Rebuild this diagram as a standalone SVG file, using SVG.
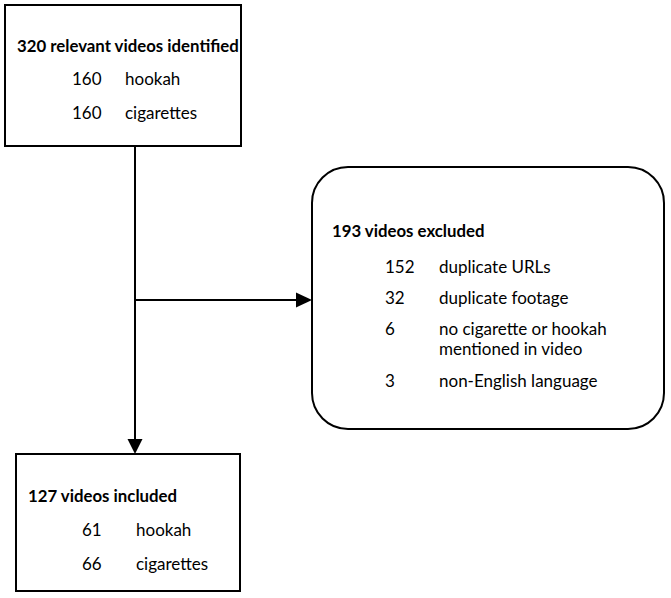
<svg xmlns="http://www.w3.org/2000/svg" width="671" height="598" viewBox="0 0 671 598">
<defs>
<style>
.box{fill:#fff;stroke:#000;stroke-width:2}
.t{font-family:Lato,"Liberation Sans",sans-serif;font-size:17px;fill:#000}
.b{font-weight:bold;font-size:16.8px}
.ln{stroke:#000;stroke-width:2;fill:none}
</style>
</defs>
<rect width="671" height="598" fill="#fff"/>
<g id="connectors">
<line class="ln" x1="135" y1="146" x2="135" y2="439"/>
<path d="M127.5,439 L142.5,439 L135,454 Z" fill="#000"/>
<line class="ln" x1="135" y1="300" x2="297" y2="300"/>
<path d="M296,292.5 L312,300 L296,307.5 Z" fill="#000"/>
</g>
<g id="identified">
<rect class="box" x="5" y="5" width="236" height="141"/>
<text class="t b" x="17" y="52">320 relevant videos identified</text>
<text class="t" x="72" y="85">160</text>
<text class="t" x="125" y="85">hookah</text>
<text class="t" x="72" y="119">160</text>
<text class="t" x="125" y="119">cigarettes</text>
</g>
<g id="excluded">
<rect class="box" x="312" y="167" width="352" height="262" rx="36" ry="36"/>
<text class="t b" x="332" y="237">193 videos excluded</text>
<text class="t" x="385" y="273">152</text>
<text class="t" x="439" y="273">duplicate URLs</text>
<text class="t" x="385" y="304">32</text>
<text class="t" x="439" y="304">duplicate footage</text>
<text class="t" x="385" y="335">6</text>
<text class="t" x="439" y="335">no cigarette or hookah</text>
<text class="t" x="439" y="355">mentioned in video</text>
<text class="t" x="385" y="387">3</text>
<text class="t" x="439" y="387">non-English language</text>
</g>
<g id="included">
<rect class="box" x="16" y="454" width="224" height="137"/>
<text class="t b" x="28" y="502">127 videos included</text>
<text class="t" x="82" y="536">61</text>
<text class="t" x="136" y="536">hookah</text>
<text class="t" x="82" y="570">66</text>
<text class="t" x="136" y="570">cigarettes</text>
</g>
</svg>
